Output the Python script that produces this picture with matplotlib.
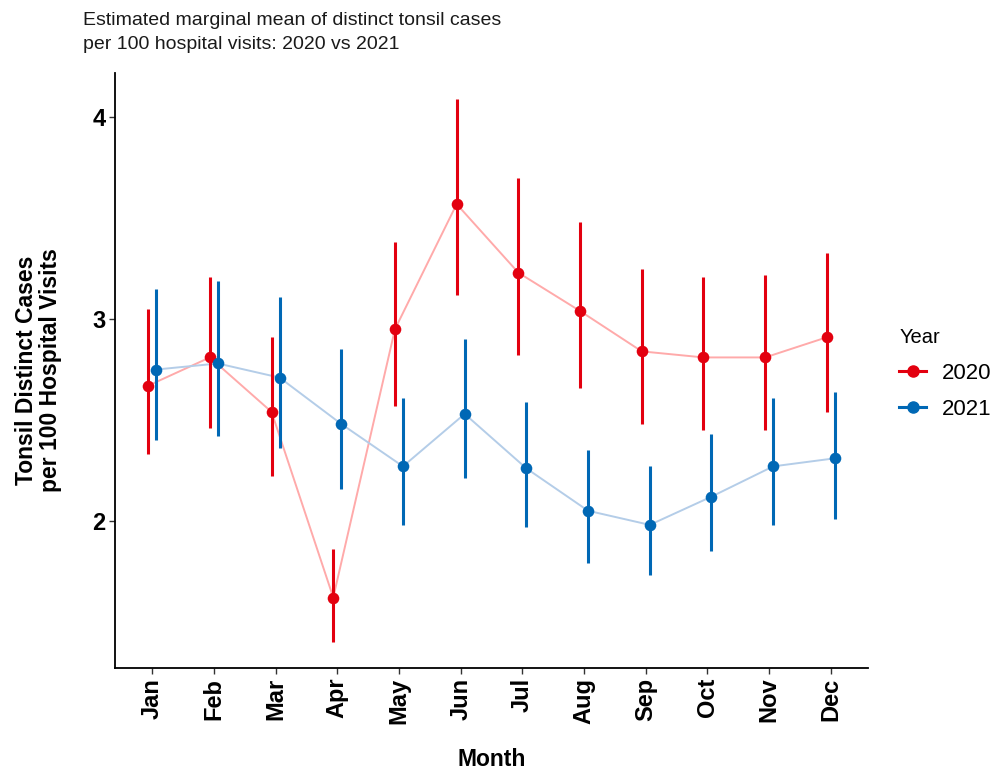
import numpy as np
import matplotlib
matplotlib.use('Agg')
import matplotlib.pyplot as plt
from matplotlib.lines import Line2D

plt.rcParams['font.family'] = ['Liberation Sans', 'DejaVu Sans']

# --- DATA ---
months = ['Jan', 'Feb', 'Mar', 'Apr', 'May', 'Jun', 'Jul', 'Aug', 'Sep', 'Oct', 'Nov', 'Dec']

mean_2020 = [2.67, 2.81, 2.54, 1.62, 2.95, 3.57, 3.23, 3.04, 2.84, 2.81, 2.81, 2.91]
lower_2020 = [2.33, 2.46, 2.22, 1.40, 2.57, 3.12, 2.82, 2.66, 2.48, 2.45, 2.45, 2.54]
upper_2020 = [3.05, 3.21, 2.91, 1.86, 3.38, 4.09, 3.70, 3.48, 3.25, 3.21, 3.22, 3.33]

mean_2021 = [2.75, 2.78, 2.71, 2.48, 2.27, 2.53, 2.26, 2.05, 1.98, 2.12, 2.27, 2.31]
lower_2021 = [2.40, 2.42, 2.36, 2.16, 1.98, 2.21, 1.97, 1.79, 1.73, 1.85, 1.98, 2.01]
upper_2021 = [3.15, 3.19, 3.11, 2.85, 2.61, 2.90, 2.59, 2.35, 2.27, 2.43, 2.61, 2.64]

years = ['2020', '2021']
colors = ['#E3000F', '#0068B5']
line_colors = ['#FFAAAA', '#B4CDE8']

# --- PLOT ---
fig = plt.figure(figsize=(9.97, 7.76), dpi=100)
ax = fig.add_axes([0.1155, 0.139, 0.755, 0.767])

x = np.arange(1, len(months) + 1)
dodge = 0.065
series = [(mean_2020, lower_2020, upper_2020), (mean_2021, lower_2021, upper_2021)]

for i, (m, lo, hi) in enumerate(series):
    xs = x + (-dodge if i == 0 else dodge)
    ax.plot(xs, m, color=line_colors[i], lw=1.4, zorder=2)
    ax.vlines(xs, lo, hi, color=colors[i], lw=2.2, zorder=3)
    ax.scatter(xs, m, s=70, color=colors[i], zorder=4, linewidths=0)

ax.set_xlim(0.4, 12.6)
ax.set_ylim(1.27, 4.22)
ax.set_xticks(x)
ax.set_xticklabels(months, rotation=90, fontsize=17, fontweight='bold')
ax.set_yticks([2, 3, 4])
ax.set_yticklabels(['2', '3', '4'], fontsize=17, fontweight='bold')
ax.tick_params(length=4, width=1, color='#333333', pad=3)

for side in ['top', 'right']:
    ax.spines[side].set_visible(False)
for side in ['left', 'bottom']:
    ax.spines[side].set_linewidth(1.3)
    ax.spines[side].set_color('black')

ax.set_xlabel('Month', fontsize=16.5, fontweight='bold', labelpad=17)
ax.set_ylabel('Tonsil Distinct Cases\nper 100 Hospital Visits', fontsize=16.5,
              fontweight='bold', labelpad=22, linespacing=1.05)

fig.text(0.083, 0.984, 'Estimated marginal mean of distinct tonsil cases\nper 100 hospital visits: 2020 vs 2021',
         fontsize=14, va='top', ha='left', linespacing=1.5, color='#1a1a1a')

handles = [Line2D([0], [0], color=colors[i], lw=2.2, marker='o', markersize=8) for i in range(2)]
leg = fig.legend(handles, years, title='Year', loc='center left', bbox_to_anchor=(0.882, 0.518),
                 frameon=False, fontsize=16, title_fontsize=14.5, handlelength=1.2,
                 labelspacing=0.7, handletextpad=0.7)
leg._legend_box.align = 'left'

fig.savefig('out.png', dpi=100)
